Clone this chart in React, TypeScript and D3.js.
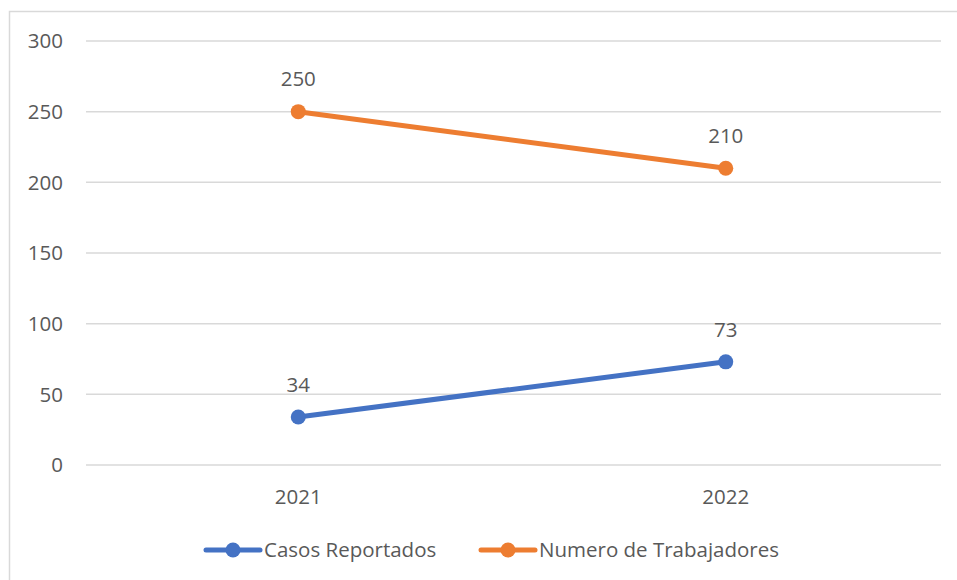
import React from "react";
import * as d3 from "d3";

const categories = ["2021", "2022"];
const casosReportados = [34, 73];
const numeroTrabajadores = [250, 210];
const yTicks = [0, 50, 100, 150, 200, 250, 300];
const seriesNames = ["Casos Reportados", "Numero de Trabajadores"];
const seriesColors = ["#4472C4", "#ED7D31"];

export default function App() {
  const W = 957, H = 580;
  const left = 86, right = 941, top = 41, bottom = 465;
  const x = d3.scaleBand<string>().domain(categories).range([left, right]);
  const y = d3.scaleLinear().domain([0, 300]).range([bottom, top]);
  const font = "'Open Sans', 'Segoe UI', sans-serif";
  const fs = 20.5;
  const txt = "#595959";
  const series = [casosReportados, numeroTrabajadores];
  const cxOf = (i: number) => (x(categories[i]) as number) + x.bandwidth() / 2 - 1.5;
  const line = d3.line<number>()
    .x((_, i) => cxOf(i))
    .y((d) => y(d));
  const legendItems = [
    { lx: 206, tx: 264 },
    { lx: 481, tx: 539 },
  ];
  return (
    <svg width={W} height={H} style={{ position: "absolute", left: 0, top: 0 }}>
      <rect x={0} y={0} width={W} height={H} fill="#fff" />
      <rect x={9.5} y={11.5} width={W + 20} height={H + 20} fill="none" stroke="#d9d9d9" strokeWidth={1.5} />
      {yTicks.map((t) => (
        <g key={t}>
          <line x1={left} x2={right} y1={y(t)} y2={y(t)} stroke="#d9d9d9" strokeWidth={1.5} />
          <text x={63} y={y(t)} dy="0.35em" textAnchor="end" fontFamily={font} fontSize={fs} fill={txt}>{t}</text>
        </g>
      ))}
      {categories.map((c, i) => (
        <text key={c} x={cxOf(i)} y={497} dy="0.35em" textAnchor="middle" fontFamily={font} fontSize={fs} fill={txt}>{c}</text>
      ))}
      {series.map((s, si) => (
        <g key={si}>
          <path d={line(s) || ""} fill="none" stroke={seriesColors[si]} strokeWidth={5} strokeLinecap="round" />
          {s.map((v, i) => {
            const cx = cxOf(i);
            return (
              <g key={i}>
                <circle cx={cx} cy={y(v)} r={7.5} fill={seriesColors[si]} />
                <text x={cx} y={y(v) - 32.5} dy="0.35em" textAnchor="middle" fontFamily={font} fontSize={fs} fill={txt}>{v}</text>
              </g>
            );
          })}
        </g>
      ))}
      {legendItems.map((l, i) => (
        <g key={i}>
          <line x1={l.lx} x2={l.lx + 54} y1={550} y2={550} stroke={seriesColors[i]} strokeWidth={5} strokeLinecap="round" />
          <circle cx={l.lx + 27} cy={550} r={7.5} fill={seriesColors[i]} />
          <text x={l.tx} y={550} dy="0.35em" fontFamily={font} fontSize={fs} fill={txt}>{seriesNames[i]}</text>
        </g>
      ))}
    </svg>
  );
}
